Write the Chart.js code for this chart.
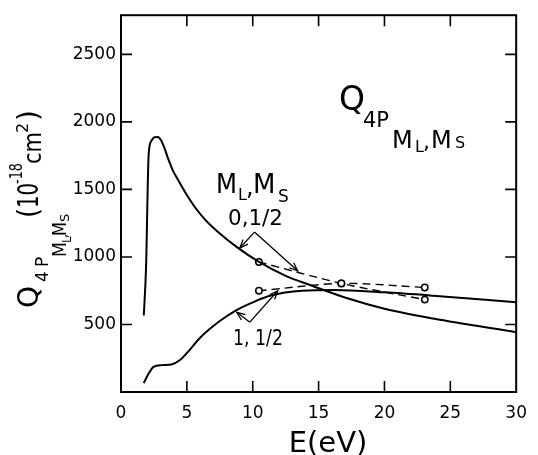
<!DOCTYPE html>
<html>
<head>
<meta charset="utf-8">
<script src="https://cdn.jsdelivr.net/npm/chart.js@4.4.1/dist/chart.umd.min.js"></script>
<style>
  html, body { margin: 0; padding: 0; background: #fff; }
  #wrap { width: 538px; height: 455px; }
</style>
</head>
<body>
<div id="wrap"><canvas id="chart"></canvas></div>
<script>
// solid curve, M_L,M_S = 0,1/2
const energyA = [1.73, 1.9, 2.1, 2.3, 2.55, 2.8, 3.05, 3.3, 3.6, 3.96, 4.33, 5.0, 5.6, 6.4, 7.3, 8.8, 10.48, 12.5, 14.5, 17.0, 20.0, 23.7, 30];
const crossA  = [566, 919, 1760, 1858, 1887, 1888, 1862, 1805, 1722, 1635, 1571, 1458, 1370, 1275, 1191, 1073, 963, 860, 787, 700, 617, 544, 443];
// solid curve, M_L,M_S = 1,1/2
const energyB = [1.73, 2.1, 2.47, 3.09, 3.83, 4.45, 5.07, 6.06, 7.55, 8.7, 10.0, 11.3, 13.75, 16.2, 20.0, 23.7, 30];
const crossB  = [66, 137, 186, 199, 204, 235, 296, 407, 529, 603, 664, 713, 750, 755, 738, 713, 664];
// open circles joined by dashed lines
const energyPts = [10.47, 16.73, 23.06];
const crossPts0 = [963, 804, 684];
const crossPts1 = [750, 804, 774];

const xTicks = [0, 5, 10, 15, 20, 25, 30];
const yTicks = [500, 1000, 1500, 2000, 2500];

const FONT = '"DejaVu Sans", sans-serif';
const toXY = (xs, ys) => xs.map((x, i) => ({ x, y: ys[i] }));

function txt(ctx, s, x, y, px, maxW) {
  ctx.font = px + 'px ' + FONT;
  ctx.textAlign = 'left';
  ctx.textBaseline = 'alphabetic';
  if (maxW) ctx.fillText(s, x, y, maxW); else ctx.fillText(s, x, y);
}

// rotated text, reading upward from y0 towards y1, baseline at page x = bx
function vtxt(ctx, s, bx, y0, y1, px) {
  ctx.save();
  ctx.translate(bx, y0);
  ctx.rotate(-Math.PI / 2);
  ctx.font = px + 'px ' + FONT;
  ctx.textAlign = 'left';
  ctx.textBaseline = 'alphabetic';
  ctx.fillText(s, 0, 0, y0 - y1);
  ctx.restore();
}

function arrow(ctx, x0, y0, x1, y1) {
  ctx.beginPath();
  ctx.moveTo(x0, y0);
  ctx.lineTo(x1, y1);
  ctx.stroke();
  const ang = Math.atan2(y1 - y0, x1 - x0), L = 9, w = 0.38;
  ctx.beginPath();
  ctx.moveTo(x1 - L * Math.cos(ang - w), y1 - L * Math.sin(ang - w));
  ctx.lineTo(x1, y1);
  ctx.lineTo(x1 - L * Math.cos(ang + w), y1 - L * Math.sin(ang + w));
  ctx.stroke();
}

const decor = {
  id: 'decor',
  afterDraw(chart) {
    const { ctx, chartArea: a, scales: { x, y } } = chart;
    ctx.save();
    ctx.strokeStyle = '#000';
    ctx.fillStyle = '#000';

    // frame + inward ticks on all sides
    ctx.lineWidth = 2;
    ctx.strokeRect(a.left, a.top, a.right - a.left, a.bottom - a.top);
    ctx.lineWidth = 1.6;
    ctx.beginPath();
    xTicks.slice(1, -1).forEach(v => {
      const px = x.getPixelForValue(v);
      ctx.moveTo(px, a.bottom); ctx.lineTo(px, a.bottom - 11);
      ctx.moveTo(px, a.top); ctx.lineTo(px, a.top + 11);
    });
    yTicks.forEach(v => {
      const py = y.getPixelForValue(v);
      ctx.moveTo(a.left, py); ctx.lineTo(a.left + 11, py);
      ctx.moveTo(a.right, py); ctx.lineTo(a.right - 11, py);
    });
    ctx.stroke();

    // arrows from the labels to the curves
    ctx.lineWidth = 1.3;
    const P = (e, q) => [x.getPixelForValue(e), y.getPixelForValue(q)];
    const groups = [
      { apex: [10.13, 1184], ends: [[9.02, 1066], [13.41, 897]] },
      { apex: [9.78, 517], ends: [[8.79, 590], [11.9, 750]] }
    ];
    groups.forEach(g => {
      const [ax, ay] = P(...g.apex);
      g.ends.forEach(e => { const [ex, ey] = P(...e); arrow(ctx, ax, ay, ex, ey); });
    });

    // annotation labels
    txt(ctx, 'M', 216, 193, 26, 21);
    txt(ctx, 'L', 238, 200, 16);
    txt(ctx, ',', 246, 195, 24);
    txt(ctx, 'M', 253, 193, 26, 23);
    txt(ctx, 'S', 278, 202, 17);
    txt(ctx, '0,1/2', 228, 225, 22, 55);
    txt(ctx, '1, 1/2', 233, 345, 22, 50);

    // big title
    txt(ctx, 'Q', 339, 110, 33);
    txt(ctx, '4P', 363, 127, 21);
    txt(ctx, 'M', 392, 148, 24, 21);
    txt(ctx, 'L', 415, 152, 16);
    txt(ctx, ',', 423, 149, 22);
    txt(ctx, 'M', 431, 148, 24, 22);
    txt(ctx, 'S', 455, 148, 16);

    // x axis title
    ctx.font = '29px ' + FONT;
    ctx.textAlign = 'center';
    ctx.fillText('E(eV)', 328, 452);

    // rotated y axis title
    vtxt(ctx, 'Q', 38, 308, 280, 28);
    vtxt(ctx, '4', 48, 282, 268, 17);
    vtxt(ctx, 'P', 48, 267, 252, 17);
    vtxt(ctx, 'M', 66, 257, 242, 19);
    vtxt(ctx, 'L', 71, 243, 236, 12);
    vtxt(ctx, ',', 67, 238, 234, 16);
    vtxt(ctx, 'M', 66, 236, 222, 19);
    vtxt(ctx, 'S', 69, 222, 212, 13);
    vtxt(ctx, '(', 38, 218, 208, 28);
    vtxt(ctx, '10', 38, 208, 183, 28);
    vtxt(ctx, '-18', 22, 184, 163, 17);
    vtxt(ctx, 'cm', 41, 164, 132, 24);
    vtxt(ctx, '2', 28, 133, 120, 16);
    vtxt(ctx, ')', 38, 121, 105, 28);

    ctx.restore();
  }
};

const solid = { borderColor: '#000', borderWidth: 2, pointRadius: 0, fill: false, cubicInterpolationMode: 'monotone' };
const dashed = {
  borderColor: '#000', borderWidth: 1.4, borderDash: [8, 5], fill: false, tension: 0.3,
  pointRadius: 3.2, pointBorderWidth: 1.5, pointBackgroundColor: '#fff', pointBorderColor: '#000'
};

new Chart(document.getElementById('chart'), {
  type: 'line',
  data: {
    datasets: [
      { label: '0,1/2', data: toXY(energyA, crossA), ...solid },
      { label: '1,1/2', data: toXY(energyB, crossB), ...solid },
      { label: '0,1/2 pts', data: toXY(energyPts, crossPts0), ...dashed },
      { label: '1,1/2 pts', data: toXY(energyPts, crossPts1), ...dashed }
    ]
  },
  options: {
    responsive: true,
    maintainAspectRatio: false,
    animation: false,
    layout: { padding: { top: 13, right: 12, left: 0, bottom: 0 } },
    plugins: { legend: { display: false }, tooltip: { enabled: false } },
    scales: {
      x: {
        type: 'linear', min: 0, max: 30,
        afterBuildTicks: s => { s.ticks = xTicks.map(v => ({ value: v })); },
        afterFit: s => { s.height = 63; },
        grid: { display: false, drawTicks: false },
        border: { display: false },
        ticks: { color: '#000', padding: 11, font: { family: FONT, size: 17 }, callback: v => String(v), maxRotation: 0 }
      },
      y: {
        type: 'linear', min: 0, max: 2790,
        afterBuildTicks: s => { s.ticks = yTicks.map(v => ({ value: v })); },
        afterFit: s => { s.width = 121; },
        grid: { display: false, drawTicks: false },
        border: { display: false },
        ticks: { color: '#000', padding: 5, font: { family: FONT, size: 17 }, callback: v => String(v) }
      }
    }
  },
  plugins: [decor]
});
</script>
</body>
</html>
